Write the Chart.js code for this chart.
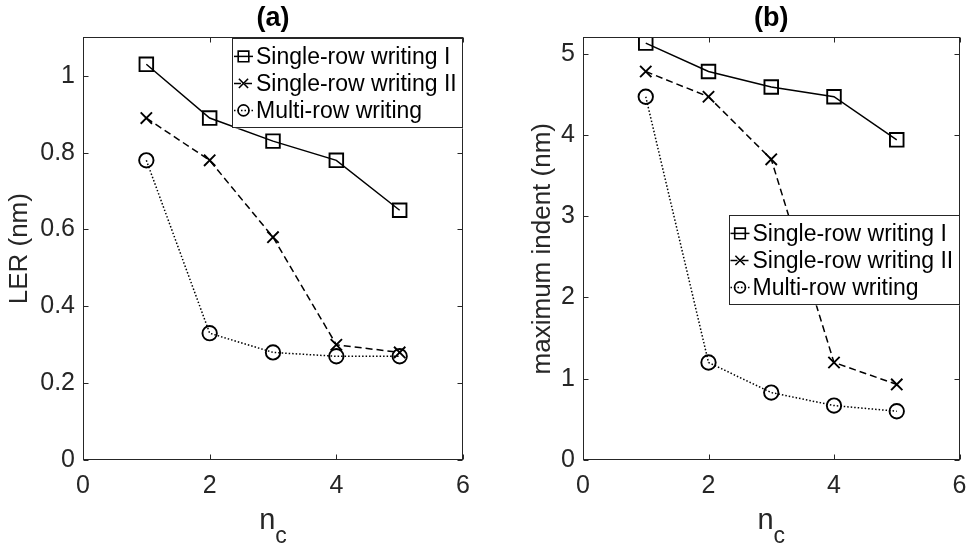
<!DOCTYPE html>
<html>
<head>
<meta charset="utf-8">
<script src="https://cdn.jsdelivr.net/npm/chart.js@4.4.1/dist/chart.umd.min.js"></script>
<style>
  body { margin: 0; background: #fff; }
  #wrap { position: relative; width: 971px; height: 546px; }
  canvas { position: absolute; top: 0; }
</style>
</head>
<body>
<div id="wrap">
  <canvas id="plotA" width="490" height="546" style="left:0"></canvas>
  <canvas id="plotB" width="481" height="546" style="left:490px"></canvas>
</div>
<script>
// values
const nc = [1, 2, 3, 4, 5];
const seriesNames = ["Single-row writing I", "Single-row writing II", "Multi-row writing"];

const lerSingle1 = [1.03, 0.89, 0.83, 0.78, 0.65];
const lerSingle2 = [0.89, 0.78, 0.58, 0.30, 0.28];
const lerMulti = [0.78, 0.33, 0.28, 0.27, 0.27];

const indentSingle1 = [5.13, 4.78, 4.59, 4.47, 3.94];
const indentSingle2 = [4.78, 4.47, 3.70, 1.20, 0.93];
const indentMulti = [4.47, 1.20, 0.83, 0.67, 0.60];

const xTicks = [0, 2, 4, 6];
const lerTicks = [0, 0.2, 0.4, 0.6, 0.8, 1];
const indentTicks = [0, 1, 2, 3, 4, 5];

const xLabelMain = "n";
const xLabelSub = "c";

const FAMILY = "'Liberation Sans', Arial, Helvetica, sans-serif";
const AXIS = "#262626";

// line / marker look per series
const styles = [
  { pointStyle: "rect", radius: 9.6, legendR: 7.5, dash: [] },
  { pointStyle: "crossRot", radius: 8, legendR: 6.5, dash: [7, 4] },
  { pointStyle: "circle", radius: 7.2, legendR: 5.5, dash: [1.5, 2] }
];

function drawMarker(ctx, style, x, y, r) {
  ctx.beginPath();
  if (style === "rect") {
    const s = r * Math.SQRT1_2;
    ctx.rect(x - s, y - s, 2 * s, 2 * s);
  } else if (style === "crossRot") {
    const s = r * Math.SQRT1_2;
    ctx.moveTo(x - s, y - s); ctx.lineTo(x + s, y + s);
    ctx.moveTo(x - s, y + s); ctx.lineTo(x + s, y - s);
  } else {
    ctx.arc(x, y, r, 0, Math.PI * 2);
  }
  ctx.stroke();
}

// box round the axes with inward ticks (matlab style)
const frame = {
  id: "frame",
  afterDatasetsDraw(chart) {
    const { ctx, chartArea: a, scales } = chart;
    ctx.save();
    ctx.strokeStyle = AXIS;
    ctx.lineWidth = 1;
    ctx.setLineDash([]);
    const L = Math.round(a.left) + 0.5, R = Math.round(a.right) - 0.5;
    const T = Math.round(a.top) + 0.5, B = Math.round(a.bottom) - 0.5;
    ctx.strokeRect(L, T, R - L, B - T);
    ctx.beginPath();
    scales.x.ticks.forEach(t => {
      const px = Math.round(scales.x.getPixelForValue(t.value)) + 0.5;
      ctx.moveTo(px, B); ctx.lineTo(px, B - 5);
      ctx.moveTo(px, T); ctx.lineTo(px, T + 5);
    });
    scales.y.ticks.forEach(t => {
      const py = Math.round(scales.y.getPixelForValue(t.value)) + 0.5;
      ctx.moveTo(L, py); ctx.lineTo(L + 5, py);
      ctx.moveTo(R, py); ctx.lineTo(R - 5, py);
    });
    ctx.stroke();
    ctx.restore();
  }
};

// x axis title with a subscript
const ncTitle = {
  id: "ncTitle",
  afterDraw(chart) {
    const { ctx, chartArea: a } = chart;
    ctx.save();
    ctx.fillStyle = AXIS;
    ctx.textBaseline = "alphabetic";
    ctx.textAlign = "left";
    const big = "29px " + FAMILY, small = "23px " + FAMILY;
    ctx.font = big; const wn = ctx.measureText(xLabelMain).width;
    ctx.font = small; const wc = ctx.measureText(xLabelSub).width;
    const x0 = (a.left + a.right) / 2 - (wn + wc) / 2;
    ctx.font = big; ctx.fillText(xLabelMain, x0, a.bottom + 69);
    ctx.font = small; ctx.fillText(xLabelSub, x0 + wn, a.bottom + 83);
    ctx.restore();
  }
};

// legend box inside the axes
const boxLegend = {
  id: "boxLegend",
  afterDatasetsDraw(chart, args, opts) {
    const { ctx, chartArea: a } = chart;
    const w = 231, h = 90;
    const left = a.right - w, top = a.top + opts.top;
    ctx.save();
    ctx.setLineDash([]);
    ctx.fillStyle = "#fff";
    ctx.fillRect(left, top, w, h);
    ctx.strokeStyle = AXIS;
    ctx.lineWidth = 1;
    ctx.strokeRect(Math.round(left) + 0.5, Math.round(top) + 0.5, w - 1, h - 1);
    ctx.font = "23px " + FAMILY;
    ctx.textBaseline = "middle";
    ctx.textAlign = "left";
    chart.data.datasets.forEach((ds, i) => {
      const y = top + 18 + i * 27;
      const st = styles[i];
      ctx.strokeStyle = "#000";
      ctx.lineWidth = 1.5;
      ctx.setLineDash(st.dash);
      ctx.beginPath();
      ctx.moveTo(left + 2, y); ctx.lineTo(left + 21, y);
      ctx.stroke();
      ctx.setLineDash([]);
      ctx.lineWidth = 1.6;
      drawMarker(ctx, st.pointStyle, left + 11.5, y, st.legendR);
      ctx.fillStyle = "#000";
      ctx.fillText(ds.label, left + 24, y + 1);
    });
    ctx.restore();
  }
};

function makeChart(id, title, yLabel, series, yMax, yTicks, axisW, padRight, yTitlePad, legendTop) {
  const tickFont = { size: 25, family: FAMILY };
  return new Chart(document.getElementById(id), {
    type: "line",
    data: {
      datasets: series.map((vals, i) => ({
        label: seriesNames[i],
        data: nc.map((x, k) => ({ x: x, y: vals[k] })),
        borderColor: "#000",
        borderWidth: 1.5,
        borderDash: styles[i].dash,
        pointStyle: styles[i].pointStyle,
        pointRadius: styles[i].radius,
        pointBorderWidth: 1.9,
        pointBorderColor: "#000",
        pointBackgroundColor: "rgba(0,0,0,0)",
        fill: false,
        tension: 0
      }))
    },
    options: {
      responsive: false,
      animation: false,
      events: [],
      layout: { padding: { left: 0, right: padRight, top: 0, bottom: 0 } },
      scales: {
        x: {
          type: "linear", min: 0, max: 6,
          afterBuildTicks: s => { s.ticks = xTicks.map(v => ({ value: v })); },
          afterFit: s => { s.height = 86; s.paddingLeft = 0; s.paddingRight = 0; },
          grid: { display: false, drawTicks: false },
          border: { display: false },
          ticks: { font: tickFont, color: AXIS, padding: 11, maxRotation: 0, callback: v => String(v) }
        },
        y: {
          type: "linear", min: 0, max: yMax,
          afterBuildTicks: s => { s.ticks = yTicks.map(v => ({ value: v })); },
          afterFit: s => { s.width = axisW; s.paddingTop = 0; s.paddingBottom = 0; },
          grid: { display: false, drawTicks: false },
          border: { display: false },
          ticks: { font: tickFont, color: AXIS, padding: 8, callback: v => String(v) },
          title: {
            display: true, text: yLabel, color: AXIS,
            font: { size: 26, family: FAMILY },
            padding: { top: yTitlePad, bottom: 0 }
          }
        }
      },
      plugins: {
        legend: { display: false },
        tooltip: { enabled: false },
        title: {
          display: true, text: title, fullSize: false, color: "#000",
          font: { size: 27, weight: "bold", family: FAMILY },
          padding: { top: 2, bottom: 3 }
        },
        boxLegend: { top: legendTop }
      }
    },
    plugins: [frame, boxLegend, ncTitle]
  });
}

makeChart("plotA", "(a)", "LER (nm)", [lerSingle1, lerSingle2, lerMulti], 1.1, lerTicks, 83, 27, 4, 1);
makeChart("plotB", "(b)", "maximum indent (nm)", [indentSingle1, indentSingle2, indentMulti], 5.2, indentTicks, 93, 8, 37, 178);
</script>
</body>
</html>
